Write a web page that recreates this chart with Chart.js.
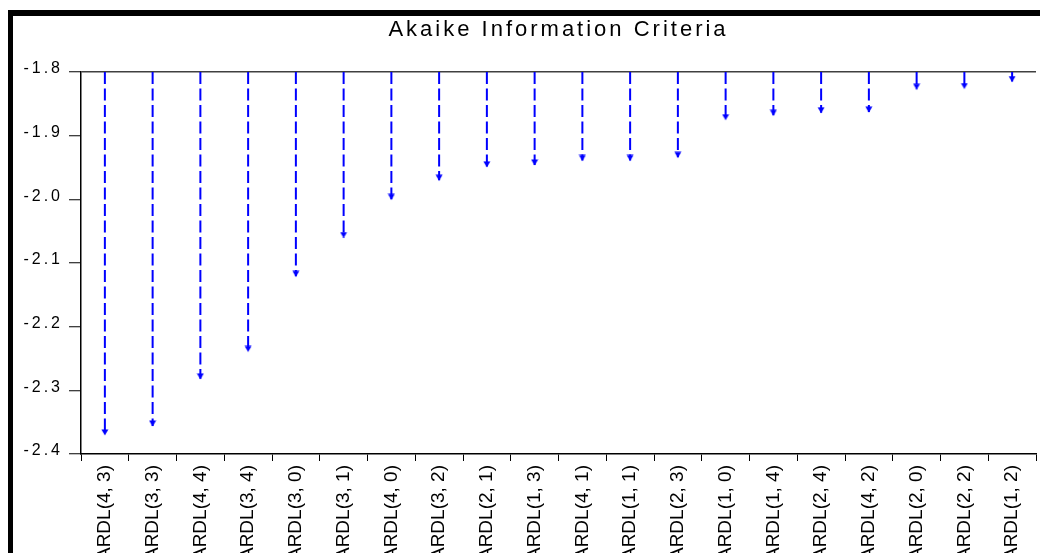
<!DOCTYPE html>
<html><head><meta charset="utf-8">
<script src="https://cdn.jsdelivr.net/npm/chart.js@4"></script>
<style>
html,body{margin:0;padding:0;background:#fff;overflow:hidden;width:1040px;height:553px;}
#frame{position:absolute;left:8px;top:10px;width:1032px;height:543px;border-left:5px solid #000;border-top:6px solid #000;box-sizing:border-box;}
#c{position:absolute;left:13px;top:16px;}
</style></head><body>
<div id="frame"></div>
<canvas id="c" width="1028" height="537"></canvas>
<script>
const categories = ["ARDL(4, 3)", "ARDL(3, 3)", "ARDL(4, 4)", "ARDL(3, 4)", "ARDL(3, 0)", "ARDL(3, 1)", "ARDL(4, 0)", "ARDL(3, 2)", "ARDL(2, 1)", "ARDL(1, 3)", "ARDL(4, 1)", "ARDL(1, 1)", "ARDL(2, 3)", "ARDL(1, 0)", "ARDL(1, 4)", "ARDL(2, 4)", "ARDL(4, 2)", "ARDL(2, 0)", "ARDL(2, 2)", "ARDL(1, 2)"];
const aicValues = [-2.370, -2.356, -2.282, -2.239, -2.121, -2.060, -2.000, -1.970, -1.949, -1.946, -1.939, -1.939, -1.934, -1.875, -1.868, -1.864, -1.863, -1.827, -1.826, -1.815];
const axisTop = -1.8;
const axisBottom = -2.4;
const tickStep = 0.1;
const chartTitle = "Akaike Information Criteria";

const BLUE = '#0000FF';
const FONT = '"Liberation Sans", Arial, sans-serif';

const stemData = [];
categories.forEach((c, i) => {
  stemData.push({x: c, y: axisTop}, {x: c, y: aicValues[i]}, {x: c, y: null});
});
const tipData = categories.map((c, i) => ({x: c, y: aicValues[i]}));

// arrow head image: tip at image centre
const arrow = document.createElement('canvas');
arrow.width = 8; arrow.height = 12;
const actx = arrow.getContext('2d');
actx.fillStyle = BLUE;
actx.beginPath();
actx.moveTo(0.5, 0.5); actx.lineTo(7.5, 0.5); actx.lineTo(4, 6.5); actx.closePath();
actx.fill();

const spacingPlugin = {
  id: 'spacing',
  beforeDraw(chart) { chart.ctx.letterSpacing = '3px'; },
  afterDatasetsDraw(chart) { chart.ctx.letterSpacing = '0px'; }
};

new Chart(document.getElementById('c'), {
  type: 'line',
  data: {
    labels: categories,
    datasets: [
      {
        data: stemData,
        borderColor: BLUE,
        borderWidth: 2,
        borderDash: [12, 4.5],
        borderCapStyle: 'butt',
        pointRadius: 0,
        spanGaps: false,
        tension: 0,
        fill: false
      },
      {
        data: tipData,
        showLine: false,
        pointStyle: arrow,
        pointRadius: 4,
        pointBackgroundColor: BLUE,
        pointBorderColor: BLUE
      }
    ]
  },
  options: {
    responsive: false,
    animation: false,
    devicePixelRatio: 1,
    layout: { padding: 0 },
    plugins: {
      legend: { display: false },
      tooltip: { enabled: false },
      title: {
        display: true,
        text: chartTitle,
        fullSize: false,
        color: '#000',
        font: { family: FONT, size: 22, weight: 'normal', lineHeight: 1.2 },
        padding: { top: 1, bottom: 28.6 }
      }
    },
    scales: {
      x: {
        type: 'category',
        offset: true,
        grid: { offset: true, drawOnChartArea: false, tickLength: 7, color: '#000', tickWidth: 1 },
        border: { color: '#000', width: 1.5 },
        ticks: {
          autoSkip: false, maxRotation: 90, minRotation: 90, padding: 4,
          color: '#000', font: { family: FONT, size: 19 }, z: 1
        },
        afterFit: s => { s.height = 99; }
      },
      y: {
        min: axisBottom,
        max: axisTop,
        ticks: {
          stepSize: tickStep,
          callback: v => Number(v).toFixed(1),
          padding: 6,
          labelOffset: -3,
          color: '#000',
          font: { family: FONT, size: 16 }
        },
        grid: {
          color: c => (c.tick && Math.abs(c.tick.value - axisTop) < 1e-9) ? '#404040' : 'rgba(0,0,0,0)',
          lineWidth: 1.5,
          tickColor: '#000',
          tickWidth: 1,
          tickLength: 12
        },
        border: { color: '#000', width: 1.5 },
        afterFit: s => { s.width = 68; }
      }
    }
  },
  plugins: [spacingPlugin]
});
</script>
</body></html>
